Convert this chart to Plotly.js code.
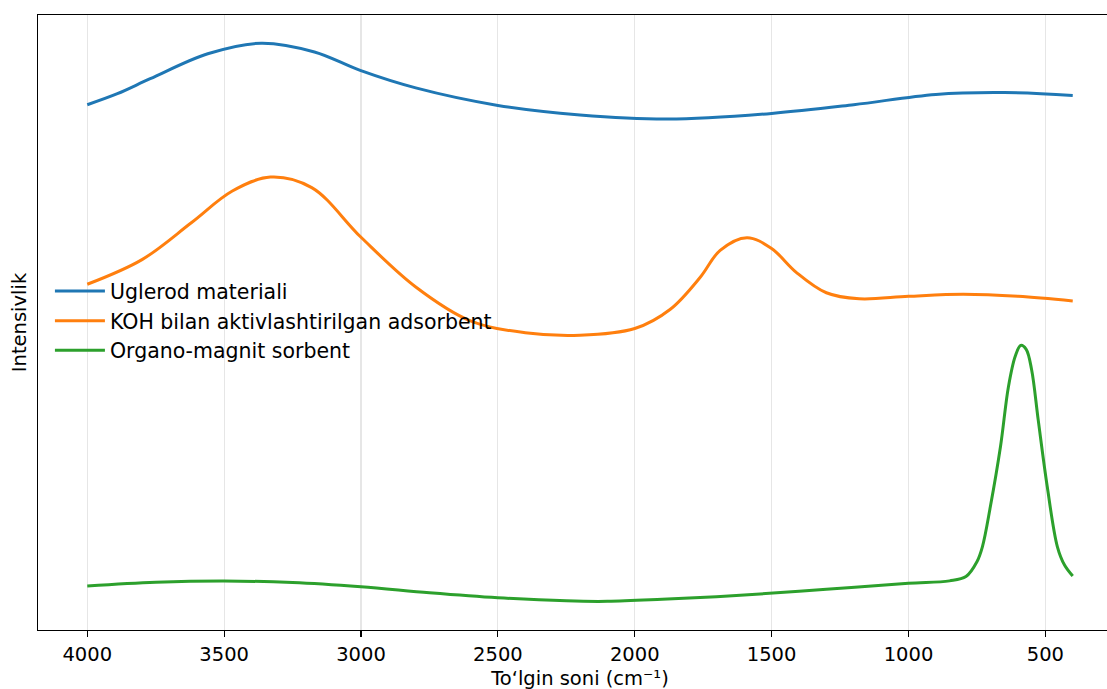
<!DOCTYPE html>
<html>
<head>
<meta charset="utf-8">
<script src="https://cdn.plot.ly/plotly-3.0.1.min.js"></script>
<style>
  html, body { margin: 0; padding: 0; overflow: hidden; background: #fff; }
  #chart { width: 1122px; height: 700px; }
</style>
</head>
<body>
<div id="chart"></div>
<script>
// Wavenumbers (cm^-1) and intensities (arbitrary units)
const seriesNames = ["Uglerod materiali", "KOH bilan aktivlashtirilgan adsorbent", "Organo-magnit sorbent"];

const uglerodX = [4000, 3890, 3770, 3560, 3365, 3170, 3003, 2800, 2500, 2200, 1880, 1500, 1200, 900, 650, 400];
const uglerodY = [88.95, 90.92, 93.60, 98.07, 99.96, 98.39, 95.09, 91.96, 88.83, 87.13, 86.40, 87.40, 88.95, 90.80, 91.12, 90.62];

const kohX = [4000, 3800, 3620, 3470, 3331, 3180, 3000, 2800, 2600, 2400, 2200, 2000, 1870, 1760, 1688, 1590, 1500, 1410, 1300, 1180, 1000, 800, 600, 400];
const kohY = [56.84, 61.25, 67.83, 73.51, 76.01, 74.12, 65.24, 56.35, 50.28, 48.17, 47.72, 48.92, 52.37, 58.14, 62.91, 65.18, 63.22, 58.98, 55.32, 54.24, 54.69, 55.05, 54.69, 53.85];

const organoX = [4000, 3750, 3500, 3250, 3000, 2750, 2500, 2250, 2100, 1900, 1600, 1300, 1000, 850, 790, 750, 730, 701, 664, 635, 610, 590, 570, 550, 526, 493, 456, 430, 400];
const organoY = [2.86, 3.52, 3.75, 3.49, 2.73, 1.66, 0.77, 0.21, 0.13, 0.50, 1.25, 2.27, 3.34, 3.79, 4.56, 7.20, 9.88, 17.03, 27.76, 38.48, 43.97, 45.90, 45.20, 41.50, 32.53, 20.61, 9.88, 6.61, 4.65];

const xTicks = [4000, 3500, 3000, 2500, 2000, 1500, 1000, 500];

const colors = ["#1f77b4", "#ff7f0e", "#2ca02c"];
const xs = [uglerodX, kohX, organoX];
const ys = [uglerodY, kohY, organoY];

const traces = seriesNames.map((name, i) => ({
  x: xs[i], y: ys[i], name: name, type: "scatter", mode: "lines",
  line: { color: colors[i], width: 3, shape: "spline", smoothing: 1 }
}));

const font = "DejaVu Sans, sans-serif";
const layout = {
  width: 1122, height: 700,
  margin: { l: 38, r: 0, t: 14.5, b: 70 },
  paper_bgcolor: "#ffffff", plot_bgcolor: "#ffffff",
  font: { family: font, size: 19.5, color: "#000" },
  showlegend: true,
  legend: {
    x: 0.011, y: 0.503, xanchor: "left", yanchor: "middle",
    bgcolor: "rgba(0,0,0,0)", borderwidth: 0,
    font: { family: font, size: 20.5, color: "#000" },
    itemwidth: 50
  },
  xaxis: {
    range: [4180, 220],
    tickvals: xTicks, ticktext: xTicks.map(String),
    ticks: "outside", ticklen: 6, tickwidth: 1.2, tickcolor: "#000",
    showgrid: true, gridcolor: "#e6e6e6", gridwidth: 1.2,
    showline: true, linecolor: "#000", linewidth: 1.3, mirror: true,
    zeroline: false, automargin: true,
    tickfont: { family: font, size: 19.5, color: "#000" },
    title: { text: "To‘lgin soni (cm⁻¹)", standoff: 6, font: { family: font, size: 19.5, color: "#000" } }
  },
  yaxis: {
    range: [-5, 105],
    showticklabels: false, ticks: "",
    showgrid: false, zeroline: false, automargin: true,
    showline: true, linecolor: "#000", linewidth: 1.3, mirror: true,
    title: { text: "Intensivlik", standoff: 5, font: { family: font, size: 19.5, color: "#000" } }
  }
};

Plotly.newPlot("chart", traces, layout, { displayModeBar: false, staticPlot: true });
</script>
</body>
</html>
